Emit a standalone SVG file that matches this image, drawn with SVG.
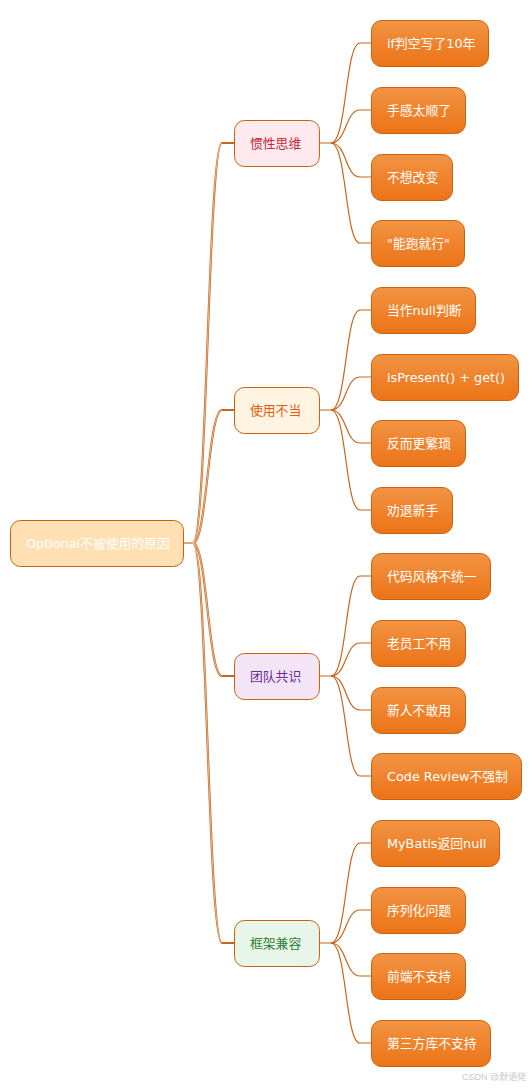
<svg xmlns="http://www.w3.org/2000/svg" width="532" height="1088" viewBox="0 0 532 1088">
<defs>
<linearGradient id="lg" x1="0" y1="0" x2="0" y2="1">
<stop offset="0" stop-color="#F29444"/>
<stop offset="1" stop-color="#EC7317"/>
</linearGradient>
</defs>
<style>
text{font-family:"DejaVu Sans","Noto Sans CJK SC",sans-serif;font-size:12.8px}
.leaf rect{fill:url(#lg);stroke:#C8620F;stroke-width:1}
.leaf text{fill:#fff}
.l1 rect{stroke:#C8620F;stroke-width:1}
.c{fill:none;stroke:#C8651B;stroke-width:1.2}
.c0{fill:none;stroke:#C8651B;stroke-width:2.2}
.c0i{fill:none;stroke:#F6D6B8;stroke-width:0.7}
</style>
<rect width="532" height="1088" fill="#fff"/>
<g id="connectors">
<path class="c" d="M183,543H193"/>
<g class="c0">
<path d="M193,543C207,543 208,143 222,143H234"/>
<path d="M193,543C207,543 208,410 222,410H234"/>
<path d="M193,543C207,543 208,676 222,676H234"/>
<path d="M193,543C207,543 208,943 222,943H234"/>
</g>
<g class="c0i">
<path d="M193,543C207,543 208,143 222,143"/>
<path d="M193,543C207,543 208,410 222,410"/>
<path d="M193,543C207,543 208,676 222,676"/>
<path d="M193,543C207,543 208,943 222,943"/>
</g>
<g class="c">
<path d="M319,143H331C347,143 345,43 360,43H371"/>
<path d="M331,143C347,143 345,110 360,110H371"/>
<path d="M331,143C347,143 345,177 360,177H371"/>
<path d="M331,143C347,143 345,243 360,243H371"/>
<path d="M319,410H331C347,410 345,310 360,310H371"/>
<path d="M331,410C347,410 345,377 360,377H371"/>
<path d="M331,410C347,410 345,443 360,443H371"/>
<path d="M331,410C347,410 345,510 360,510H371"/>
<path d="M319,676H331C347,676 345,576 360,576H371"/>
<path d="M331,676C347,676 345,643 360,643H371"/>
<path d="M331,676C347,676 345,710 360,710H371"/>
<path d="M331,676C347,676 345,776 360,776H371"/>
<path d="M319,943H331C347,943 345,843 360,843H371"/>
<path d="M331,943C347,943 345,910 360,910H371"/>
<path d="M331,943C347,943 345,976 360,976H371"/>
<path d="M331,943C347,943 345,1043 360,1043H371"/>
</g>
</g>
<g id="root">
<rect x="10.5" y="520.5" width="173" height="46" rx="10" fill="#FFE0B2" stroke="#C8620F"/>
<text x="26" y="548" fill="#FFFFFF">Optional不被使用的原因</text>
</g>
<g id="n1" class="l1"><rect x="234.5" y="120.5" width="85" height="46" rx="10" fill="#FDE9EE"/><text x="250" y="148" fill="#C62838">惯性思维</text></g>
<g id="n2" class="l1"><rect x="234.5" y="387.5" width="85" height="46" rx="10" fill="#FFF3E1"/><text x="250" y="415" fill="#E65C10">使用不当</text></g>
<g id="n3" class="l1"><rect x="234.5" y="653.5" width="85" height="46" rx="10" fill="#F3E5F6"/><text x="250" y="681" fill="#6A2A9A">团队共识</text></g>
<g id="n4" class="l1"><rect x="234.5" y="920.5" width="85" height="46" rx="10" fill="#E8F5E9"/><text x="250" y="948" fill="#2E7D32">框架兼容</text></g>
<g id="leaf1" class="leaf"><rect x="371.5" y="20.5" width="117" height="46" rx="10"/><text x="387" y="48">if判空写了10年</text></g>
<g id="leaf2" class="leaf"><rect x="371.5" y="87.5" width="94" height="46" rx="10"/><text x="387" y="115">手感太顺了</text></g>
<g id="leaf3" class="leaf"><rect x="371.5" y="154.5" width="81" height="46" rx="10"/><text x="387" y="182">不想改变</text></g>
<g id="leaf4" class="leaf"><rect x="371.5" y="220.5" width="93" height="46" rx="10"/><text x="387" y="248">"能跑就行"</text></g>
<g id="leaf5" class="leaf"><rect x="371.5" y="287.5" width="104" height="46" rx="10"/><text x="387" y="315">当作null判断</text></g>
<g id="leaf6" class="leaf"><rect x="371.5" y="354.5" width="147" height="46" rx="10"/><text x="387" y="382">isPresent() + get()</text></g>
<g id="leaf7" class="leaf"><rect x="371.5" y="420.5" width="94" height="46" rx="10"/><text x="387" y="448">反而更繁琐</text></g>
<g id="leaf8" class="leaf"><rect x="371.5" y="487.5" width="81" height="46" rx="10"/><text x="387" y="515">劝退新手</text></g>
<g id="leaf9" class="leaf"><rect x="371.5" y="553.5" width="119" height="46" rx="10"/><text x="387" y="581">代码风格不统一</text></g>
<g id="leaf10" class="leaf"><rect x="371.5" y="620.5" width="94" height="46" rx="10"/><text x="387" y="648">老员工不用</text></g>
<g id="leaf11" class="leaf"><rect x="371.5" y="687.5" width="94" height="46" rx="10"/><text x="387" y="715">新人不敢用</text></g>
<g id="leaf12" class="leaf"><rect x="371.5" y="753.5" width="150" height="46" rx="10"/><text x="387" y="781">Code Review不强制</text></g>
<g id="leaf13" class="leaf"><rect x="371.5" y="820.5" width="128" height="46" rx="10"/><text x="387" y="848">MyBatis返回null</text></g>
<g id="leaf14" class="leaf"><rect x="371.5" y="887.5" width="94" height="46" rx="10"/><text x="387" y="915">序列化问题</text></g>
<g id="leaf15" class="leaf"><rect x="371.5" y="953.5" width="94" height="46" rx="10"/><text x="387" y="981">前端不支持</text></g>
<g id="leaf16" class="leaf"><rect x="371.5" y="1020.5" width="119" height="46" rx="10"/><text x="387" y="1048">第三方库不支持</text></g>
<text x="462" y="1080" style="font-size:9px;fill:#C8C8C8;font-family:'Liberation Sans','Noto Sans CJK SC',sans-serif">CSDN @默语佬</text>
</svg>
